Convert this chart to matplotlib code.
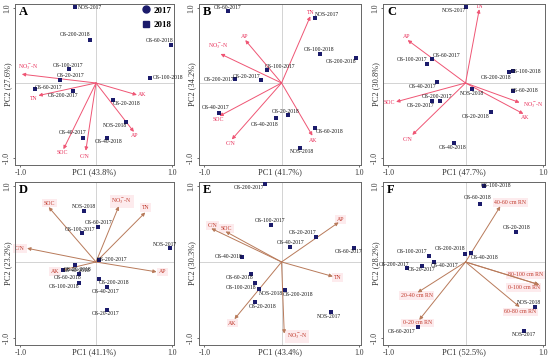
import matplotlib
matplotlib.use("Agg")
import matplotlib.pyplot as plt
from matplotlib.lines import Line2D

plt.rcParams['font.family'] = ['Liberation Serif', 'DejaVu Serif']
plt.rcParams['mathtext.fontset'] = 'stix'

NO3 = r'NO$_3^-$-N'

# ---------------- data ----------------
A_samples = ['NOS-2017', 'OS-200-2018', 'OS-60-2018', 'OS-100-2017', 'OS-20-2017', 'OS-100-2018',
             'OS-60-2017', 'OS-200-2017', 'OS-20-2018', 'NOS-2018', 'OS-40-2017', 'OS-40-2018']
A_pc1 = [-0.275, -0.083, 0.99, -0.358, -0.48, 0.71, -0.81, -0.30, 0.23, 0.39, -0.175, 0.148]
A_pc2 = [1.01, 0.577, 0.51, 0.185, 0.04, 0.068, -0.08, -0.10, -0.225, -0.52, -0.73, -0.73]
A_vars = [NO3, 'TN', 'AK', 'AP', 'SOC', 'C/N']
A_var_pc1 = [-0.98, -0.76, 0.54, 0.50, -0.43, -0.135]
A_var_pc2 = [0.117, -0.167, -0.158, -0.65, -0.88, -0.90]

B_samples = ['OS-60-2017', 'NOS-2017', 'OS-100-2018', 'OS-200-2018', 'OS-100-2017', 'OS-20-2017',
             'OS-200-2017', 'OS-40-2017', 'OS-20-2018', 'OS-40-2018', 'OS-60-2018', 'NOS-2018']
B_pc1 = [-0.695, 0.43, 0.50, 0.96, -0.186, -0.267, -0.60, -0.81, 0.08, -0.072, 0.44, 0.237]
B_pc2 = [0.955, 0.86, 0.39, 0.336, 0.168, 0.036, 0.05, -0.40, -0.43, -0.47, -0.595, -0.86]
B_vars = ['TN', 'AP', NO3, 'SOC', 'C/N', 'AK']
B_var_pc1 = [0.373, -0.47, -0.79, -0.805, -0.644, 0.40]
B_var_pc2 = [0.886, 0.57, 0.386, -0.44, -0.75, -0.70]

C_samples = ['NOS-2017', 'OS-60-2017', 'OS-100-2017', 'OS-100-2018', 'OS-200-2018', 'OS-40-2017',
             'NOS-2018', 'OS-60-2018', 'OS-200-2017', 'OS-20-2017', 'OS-20-2018', 'OS-40-2018']
C_pc1 = [0.0, -0.43, -0.50, 0.61, 0.557, -0.37, 0.078, 0.61, -0.326, -0.43, 0.33, -0.15]
C_pc2 = [1.01, 0.315, 0.257, 0.158, 0.144, 0.01, -0.08, -0.10, -0.243, -0.243, -0.39, -0.80]
C_vars = ['TN', 'AP', 'SOC', NO3, 'AK', 'C/N']
C_var_pc1 = [0.178, -0.75, -0.90, 0.70, 0.75, -0.69]
C_var_pc2 = [0.98, 0.57, -0.25, -0.26, -0.41, -0.69]

D_samples = ['NOS-2018', 'OS-60-2017', 'OS-100-2017', 'NOS-2017', 'OS-200-2017', 'OS-20-2018',
             'OS-40-2018', 'OS-60-2018', 'OS-100-2018', 'OS-200-2018', 'OS-40-2017', 'OS-20-2017']
D_pc1 = [-0.16, 0.02, -0.19, 0.98, 0.04, -0.284, -0.44, -0.23, -0.23, 0.04, 0.145, 0.145]
D_pc2 = [0.675, 0.46, 0.375, 0.18, 0.03, -0.044, -0.107, -0.155, -0.275, -0.22, -0.33, -0.63]
D_vars = ['SOC', NO3, 'TN', 'C/N', 'AP', 'AK']
D_var_pc1 = [-0.625, 0.30, 0.65, -0.91, 0.80, -0.46]
D_var_pc2 = [0.72, 0.73, 0.65, 0.18, -0.13, -0.11]

E_samples = ['OS-200-2017', 'OS-100-2017', 'OS-20-2017', 'OS-40-2017', 'OS-60-2017', 'OS-40-2018',
             'OS-60-2018', 'OS-100-2018', 'NOS-2018', 'OS-200-2018', 'OS-20-2018', 'NOS-2017']
E_pc1 = [-0.22, -0.14, 0.45, 0.11, 0.94, -0.51, -0.39, -0.34, -0.29, 0.04, -0.34, 0.64]
E_pc2 = [1.02, 0.49, 0.33, 0.20, 0.19, 0.07, -0.155, -0.28, -0.355, -0.37, -0.53, -0.66]
E_vars = ['AP', 'C/N', 'SOC', 'TN', 'AK', NO3]
E_var_pc1 = [0.74, -0.91, -0.725, 0.665, -0.61, 0.035]
E_var_pc2 = [0.52, 0.44, 0.40, -0.19, -0.75, -0.94]

F_samples = ['OS-100-2018', 'OS-60-2018', 'OS-20-2018', 'OS-200-2018', 'OS-40-2018', 'OS-100-2017',
             'OS-40-2017', 'OS-20-2017', 'OS-200-2017', 'NOS-2018', 'NOS-2017', 'OS-60-2017']
F_pc1 = [0.24, 0.19, 0.65, -0.01, 0.065, -0.47, -0.41, -0.565, -0.765, 0.895, 0.76, -0.61]
F_pc2 = [1.0, 0.76, 0.40, 0.11, 0.115, 0.075, 0.0, -0.05, -0.08, -0.59, -0.91, -0.855]
F_vars = ['40-60 cm RN', '80-100 cm RN', '0-100 cm RN', '60-80 cm RN', '20-40 cm RN', '0-20 cm RN']
F_var_pc1 = [0.45, 0.957, 0.948, 0.70, -0.62, -0.60]
F_var_pc2 = [0.73, -0.30, -0.295, -0.59, -0.40, -0.76]

panel_letters = ['A', 'B', 'C', 'D', 'E', 'F']
pc1_pct = ['43.8%', '41.7%', '47.7%', '41.1%', '43.4%', '52.5%']
pc2_pct = ['27.6%', '34.2%', '30.8%', '23.2%', '30.3%', '28.2%']
legend_labels = ['2017', '2018']

# ---------------- layout (label offsets in pixels) ----------------
A_off = [(3, 0, 'l'), (-15, 5), (-11, 4), (-1, 4), (11, 4), (3, 0, 'l'),
         (14, 2), (-10, -5), (13, -4), (-11, -3), (-10, 5), (1, -4)]
A_voff = [(7, 7), (-5, -3), (5, 0), (1, -4), (-1, -3), (-1, -6)]
B_off = [(0, 4), (12, 4), (-1, 4), (-15, -4), (13, 4), (-14, 4),
         (-16, 0), (-3, 6), (-2, 4), (-11, -6), (14, -4), (2, -4)]
B_voff = [(0, 4), (-1, 4), (-2, 8), (-1, -3), (-1, -4), (1, -5)]
C_off = [(-12, -3), (14, 4), (-15, 4), (13, 0), (-12, -5), (-14, -4),
         (0, -4), (12, 0), (-3, 5), (-12, -4), (-15, -4), (-1, -4)]
C_voff = [(0, 3), (-1, 4), (-7, -1), (14, -3), (2, -4), (-5, -5)]
D_off = [(0, 4), (1, 4), (-2, 4), (-5, 4), (13, 0), (3, -4),
         (14, 0), (-11, -4), (-15, -4), (15, -4), (-1, -4), (-1, -4)]
D_voff = [(1, 4), (3, 5), (0, 5), (-7, 0), (6, 0), (-6, -1)]
E_off = [(-16, -3), (-1, 4), (-14, 4), (1, 4), (-5, -4), (-14, 0),
         (-12, -4), (-14, -4), (12, -4), (13, -4), (7, -4), (-2, -4)]
E_voff = [(2, 3), (1, 3), (1, 3), (5, -1), (-2, -4), (13, -3)]
F_off = [(12, 0), (-3, 7), (1, 4), (-15, 5), (14, -4), (-17, 5),
         (11, -4), (0, -4), (-13, 4), (-6, 4), (0, -3), (-17, -4)]
F_voff = [(10, 4), (-14, 10), (-15, -3), (1, -5), (-1, -3), (-2, -3)]

panels = [
    (A_samples, A_pc1, A_pc2, A_vars, A_var_pc1, A_var_pc2, A_off, A_voff),
    (B_samples, B_pc1, B_pc2, B_vars, B_var_pc1, B_var_pc2, B_off, B_voff),
    (C_samples, C_pc1, C_pc2, C_vars, C_var_pc1, C_var_pc2, C_off, C_voff),
    (D_samples, D_pc1, D_pc2, D_vars, D_var_pc1, D_var_pc2, D_off, D_voff),
    (E_samples, E_pc1, E_pc2, E_vars, E_var_pc1, E_var_pc2, E_off, E_voff),
    (F_samples, F_pc1, F_pc2, F_vars, F_var_pc1, F_var_pc2, F_off, F_voff),
]

W, H = 550, 361
fig = plt.figure(figsize=(W / 100, H / 100), dpi=100)

col_x = [(15, 174), (199, 361), (383, 545)]
row_y = [(4, 165), (182, 345)]

NAVY = '#1b1b6b'

for i, (samp, x, y, vnames, vx, vy, off, voff) in enumerate(panels):
    r, c = divmod(i, 3)
    x0, x1 = col_x[c]
    y0, y1 = row_y[r]
    ax = fig.add_axes([x0 / W, 1 - y1 / H, (x1 - x0) / W, (y1 - y0) / H])
    ax.set_xlim(-1.07, 1.03)
    ax.set_ylim(-1.09, 1.05)
    ax.axhline(0, color='#cccccc', lw=0.6, zorder=0)
    ax.axvline(0, color='#cccccc', lw=0.6, zorder=0)
    for s in ax.spines.values():
        s.set_color('#666666')
        s.set_linewidth(0.7)
    ax.set_xticks([-1.0, 1.0])
    ax.set_yticks([-1.0, 1.0])
    ax.set_xticklabels(['-1.0', '1.0'], fontsize=5.5)
    ax.set_yticklabels(['-1.0', '1.0'], fontsize=5.5, rotation=90, va='center')
    ax.tick_params(length=1.5, width=0.5, pad=1.5, colors='#333333')
    ax.set_xlabel(f'PC1 ({pc1_pct[i]})', fontsize=6, color='#333333')
    ax.set_ylabel(f'PC2 ({pc2_pct[i]})', fontsize=6, color='#333333')
    ax.xaxis.set_label_coords(0.5, -0.017)
    ax.yaxis.set_label_coords(-0.017, 0.5)

    if r == 0:
        acol, tcol, bbox = '#ef5574', '#e8305a', None
    else:
        acol, tcol = '#b87a5a', '#c0392b'
        bbox = dict(boxstyle='square,pad=0.3', fc='#fde9ec', ec='none', alpha=0.9)

    for name, ex, ey, (dx, dy) in zip(vnames, vx, vy, voff):
        ax.annotate('', xy=(ex, ey), xytext=(0, 0),
                    arrowprops=dict(arrowstyle='-|>', color=acol, lw=0.7,
                                    mutation_scale=5, shrinkA=0, shrinkB=0), zorder=2)
        ax.annotate(name, xy=(ex, ey), xytext=(dx, dy), textcoords='offset pixels',
                    fontsize=4.2, color=tcol, ha='center', va='center', bbox=bbox, zorder=1)

    ax.scatter(x, y, marker='s', s=8, color=NAVY, zorder=3, linewidths=0)
    for name, px, py, o in zip(samp, x, y, off):
        ha = 'left' if len(o) == 3 else 'center'
        ax.annotate(name, xy=(px, py), xytext=(o[0], o[1]), textcoords='offset pixels',
                    fontsize=4.0, color='#111111', ha=ha, va='center', zorder=4)

    ax.text(0.025, 0.985, panel_letters[i], transform=ax.transAxes, fontsize=9,
            fontweight='bold', va='top', ha='left')

    if i == 0:
        handles = [Line2D([], [], marker='o', ls='none', color=NAVY, markersize=5),
                   Line2D([], [], marker='s', ls='none', color=NAVY, markersize=4.5)]
        ax.legend(handles, legend_labels, loc='upper right', frameon=False,
                  prop={'size': 6.5, 'weight': 'bold'}, handletextpad=0.4,
                  labelspacing=0.7, borderaxespad=0.05, handlelength=1.0,
                  borderpad=0.2)

fig.savefig('out.png', dpi=100)
